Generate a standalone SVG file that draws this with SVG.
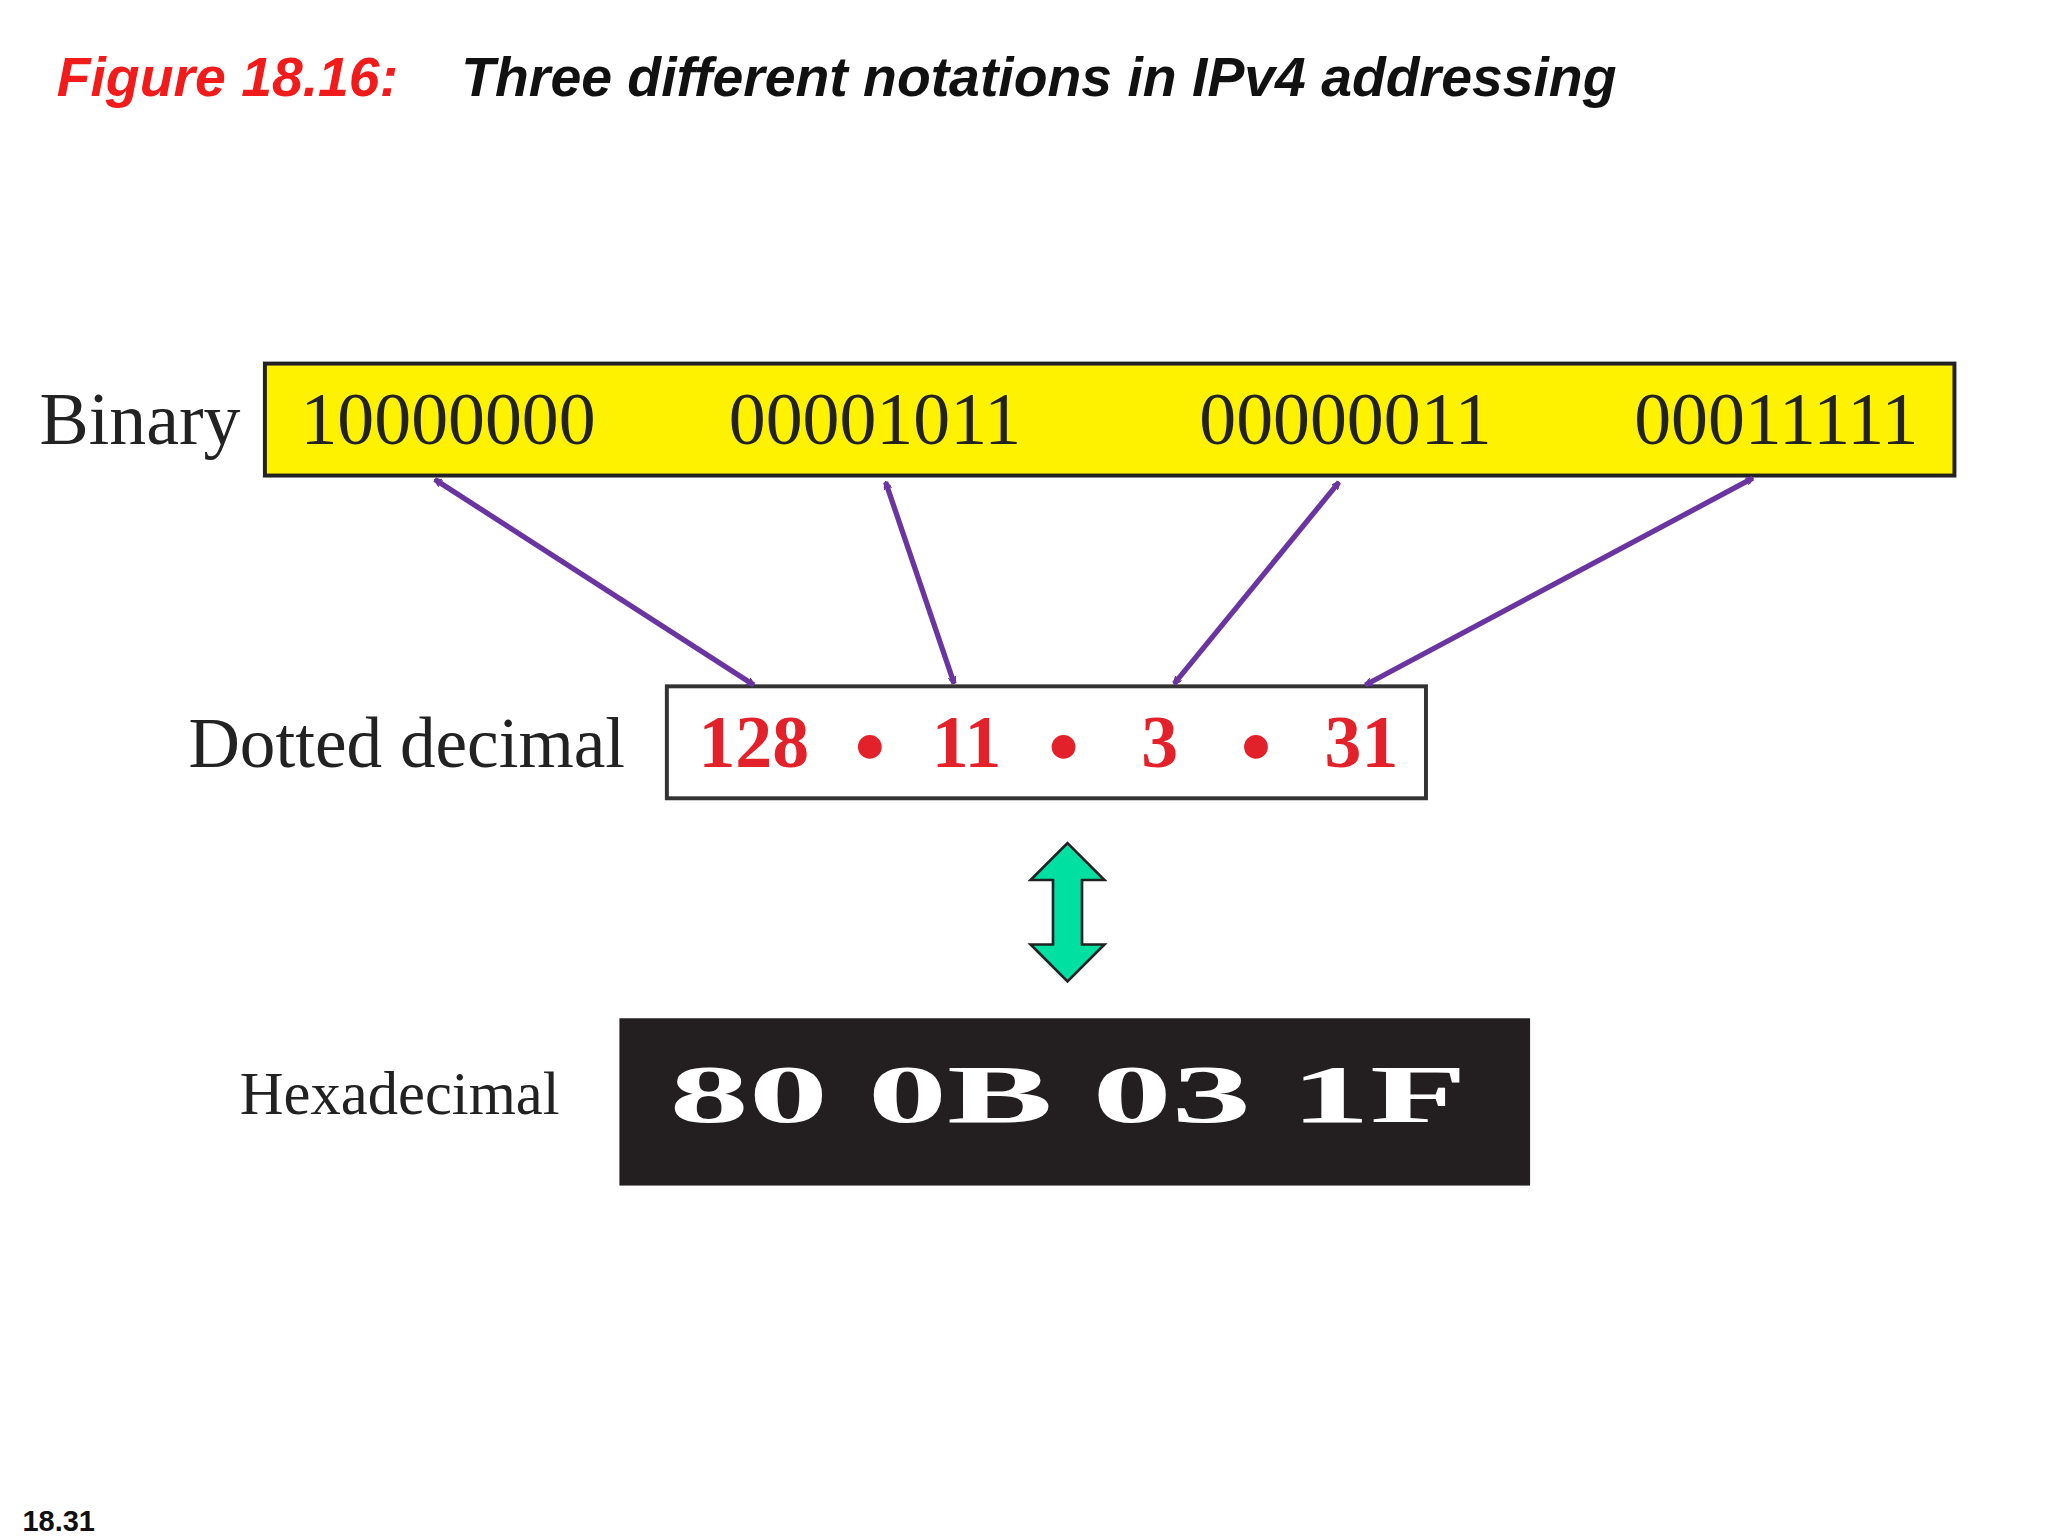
<svg xmlns="http://www.w3.org/2000/svg" width="2048" height="1536" viewBox="0 0 2048 1536">
<style>
.t{font-family:"Liberation Serif",serif;fill:#222}
.r{font-family:"Liberation Serif",serif;font-weight:bold;fill:#e3212b;font-size:56px}
.c{stroke:#6a35a0;stroke-width:4;fill:none;marker-start:url(#a);marker-end:url(#a)}
</style>
<defs><marker id="a" viewBox="0 0 10 10" refX="9" refY="5" markerWidth="6" markerHeight="6" orient="auto-start-reverse" markerUnits="userSpaceOnUse"><path d="M0,0 L10,5 L0,10" fill="none" stroke="#6a35a0" stroke-width="2" transform="scale(1)"/></marker></defs>
<rect width="2048" height="1536" fill="#fff"/>
<g transform="scale(1.3179,1.3173)">
<g id="title" font-family="Liberation Sans,Arial,sans-serif" font-weight="bold" font-style="italic" font-size="42">
<text x="43" y="73" fill="#f21b1b">Figure 18.16:</text>
<text x="350" y="73" fill="#111">Three different notations in IPv4 addressing</text>
</g>
<g id="binary">
<text class="t" x="30" y="337" font-size="56">Binary</text>
<rect x="201" y="276" width="1282" height="85" fill="#fff200" stroke="#222" stroke-width="3"/>
<g class="t" font-size="56"><text x="228" y="337">10000000</text><text x="553" y="337">00001011</text><text x="910" y="337">00000011</text><text x="1240" y="337">00011111</text></g>
</g>
<g id="dotted">
<text class="t" x="143" y="582" font-size="54">Dotted decimal</text>
<rect x="506" y="521" width="576" height="85" fill="#fff" stroke="#333" stroke-width="3"/>
<text class="r" x="530" y="582">128</text><text class="r" x="707" y="582">11</text><text class="r" x="866" y="582">3</text><text class="r" x="1005" y="582">31</text>
<g fill="#e3212b"><circle cx="660" cy="567" r="9"/><circle cx="807" cy="567" r="9"/><circle cx="953" cy="567" r="9"/></g>
</g>
<g id="hex">
<text class="t" x="182" y="846" font-size="46">Hexadecimal</text>
<rect x="470" y="773" width="691" height="127" fill="#231f20"/>
<text x="508" y="852" font-family="Liberation Serif,serif" font-weight="bold" font-size="62" fill="#fff" textLength="605" lengthAdjust="spacingAndGlyphs">80 0B 03 1F</text>
</g>
<g id="connectors">
<line class="c" x1="330" y1="364" x2="572" y2="520"/>
<line class="c" x1="672" y1="366" x2="724" y2="519"/>
<line class="c" x1="1016" y1="366" x2="891" y2="519"/>
<line class="c" x1="1330" y1="363" x2="1036" y2="520"/>
<path d="M810,640 L838,668 L821,668 L821,717 L838,717 L810,745 L782,717 L799,717 L799,668 L782,668 Z" fill="#00e0a0" stroke="#222" stroke-width="2"/>
</g>
<text x="17" y="1162" font-family="Liberation Sans,Arial,sans-serif" font-weight="bold" font-size="22" fill="#111">18.31</text>
</g>
</svg>
